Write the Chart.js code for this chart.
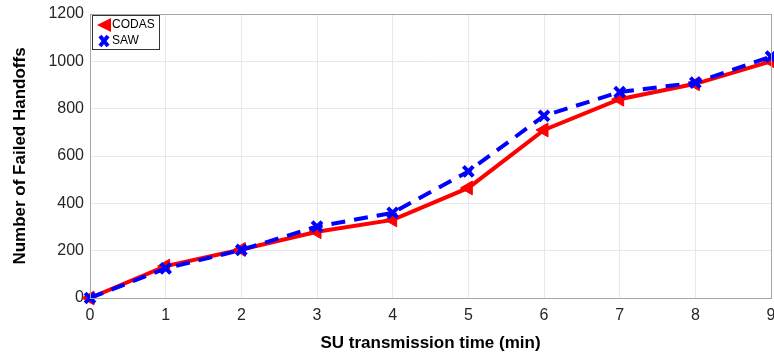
<!DOCTYPE html>
<html>
<head>
<meta charset="utf-8">
<script src="https://cdn.jsdelivr.net/npm/chart.js@4"></script>
<style>
  html, body { margin: 0; padding: 0; background: #fff; }
  #wrap { width: 774px; height: 361px; position: relative; }
</style>
</head>
<body>
<div id="wrap"><canvas id="c"></canvas></div>
<script>
// data
const times = [0, 1, 2, 3, 4, 5, 6, 7, 8, 9];
const codas = [0, 135, 205, 280, 330, 465, 710, 840, 905, 1000];
const saw   = [0, 125, 203, 302, 360, 535, 770, 870, 910, 1020];
const yTicks = [0, 200, 400, 600, 800, 1000, 1200];

const FONT = "'Liberation Sans', Arial, sans-serif";

const pts = arr => times.map((t, i) => ({ x: t, y: arr[i] }));

// box round the plot + legend in the upper-left corner (MATLAB style)
const framePlugin = {
  id: 'frame',
  afterDraw(chart) {
    const { ctx, chartArea: a } = chart;
    ctx.save();
    ctx.strokeStyle = '#a6a6a6';
    ctx.lineWidth = 1;
    ctx.strokeRect(a.left + 0.5, a.top + 0.5, a.right - a.left, a.bottom - a.top);

    // legend
    const lx = a.left + 2, ly = a.top + 1, lw = 67, lh = 34;
    ctx.fillStyle = '#fff';
    ctx.fillRect(lx, ly, lw, lh);
    ctx.strokeStyle = '#333';
    ctx.strokeRect(lx + 0.5, ly + 0.5, lw, lh);
    ctx.font = '12px ' + FONT;
    ctx.textBaseline = 'middle';
    ctx.fillStyle = '#000';
    ctx.fillText('CODAS', lx + 20, ly + 10);
    ctx.fillText('SAW', lx + 20, ly + 26);
    // red triangle
    ctx.fillStyle = '#ff0000';
    ctx.beginPath();
    ctx.moveTo(lx + 5, ly + 10);
    ctx.lineTo(lx + 19, ly + 3);
    ctx.lineTo(lx + 19, ly + 17);
    ctx.closePath();
    ctx.fill();
    // blue x
    ctx.strokeStyle = '#0000ff';
    ctx.lineWidth = 4;
    ctx.beginPath();
    ctx.moveTo(lx + 8, ly + 21); ctx.lineTo(lx + 16, ly + 31);
    ctx.moveTo(lx + 16, ly + 21); ctx.lineTo(lx + 8, ly + 31);
    ctx.stroke();
    ctx.restore();
  }
};

new Chart(document.getElementById('c'), {
  type: 'line',
  data: {
    datasets: [
      {
        label: 'SAW',
        data: pts(saw),
        borderColor: '#0000ff',
        backgroundColor: '#0000ff',
        borderWidth: 4,
        borderDash: [14, 9],
        pointStyle: 'crossRot',
        pointRadius: 7,
        pointBorderWidth: 4,
        pointHoverRadius: 7,
        tension: 0,
        clip: false,
        order: 0,
      },
      {
        label: 'CODAS',
        data: pts(codas),
        borderColor: '#ff0000',
        backgroundColor: '#ff0000',
        borderWidth: 4,
        pointStyle: 'triangle',
        rotation: -90,
        pointRadius: 8,
        pointBorderWidth: 1,
        pointHoverRadius: 8,
        tension: 0,
        clip: false,
        order: 1,
      },
    ],
  },
  options: {
    responsive: true,
    maintainAspectRatio: false,
    animation: false,
    layout: { autoPadding: false, padding: { top: 14, right: 3, left: 0, bottom: 0 } },
    plugins: {
      legend: { display: false },
      tooltip: { enabled: false },
    },
    scales: {
      x: {
        type: 'linear',
        min: 0, max: 9,
        afterFit: s => { s.height = 63; s.paddingLeft = 0; s.paddingRight = 0; },
        ticks: { stepSize: 1, color: '#262626', font: { family: FONT, size: 16 }, padding: 8 },
        grid: { color: '#e8e8e8', drawTicks: false },
        border: { display: false },
        title: {
          display: true, text: 'SU transmission time (min)', color: '#000',
          font: { family: FONT, size: 17, weight: 'bold' }, padding: { top: 4, bottom: 7 },
        },
      },
      y: {
        min: 0, max: 1200,
        afterFit: s => { s.width = 90; s.paddingTop = 0; s.paddingBottom = 0; },
        afterBuildTicks: s => { s.ticks = yTicks.map(v => ({ value: v })); },
        ticks: {
          color: '#262626', font: { family: FONT, size: 16 }, padding: 6,
          callback: v => String(v),
        },
        grid: { color: '#e8e8e8', drawTicks: false },
        border: { display: false },
        title: {
          display: true, text: 'Number of Failed Handoffs', color: '#000',
          font: { family: FONT, size: 17, weight: 'bold' }, padding: { top: 10, bottom: 4 },
        },
      },
    },
  },
  plugins: [framePlugin],
});
</script>
</body>
</html>
